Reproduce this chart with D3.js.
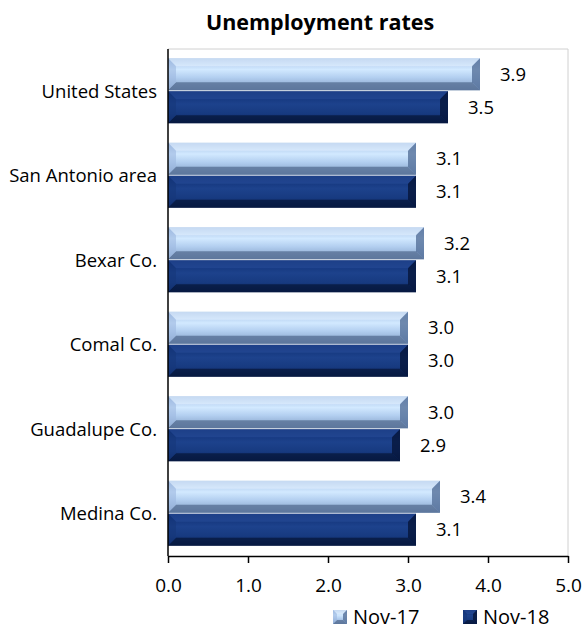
<!DOCTYPE html>
<html>
<head>
<meta charset="utf-8">
<script src="https://cdn.jsdelivr.net/npm/d3@7"></script>
<style>
body { margin: 0; background: #fff; }
text { font-family: "Open Sans", "DejaVu Sans", sans-serif; fill: #000; }
</style>
</head>
<body>
<script>
const WIDTH = 584, HEIGHT = 630;

const categories = ["United States", "San Antonio area", "Bexar Co.", "Comal Co.", "Guadalupe Co.", "Medina Co."];
const series = ["Nov-17", "Nov-18"];
const nov17 = [3.9, 3.1, 3.2, 3.0, 3.0, 3.4];
const nov18 = [3.5, 3.1, 3.1, 3.0, 2.9, 3.1];
const ticks = [0, 1, 2, 3, 4, 5];

const margin = {top: 49, right: 16, bottom: 74, left: 168};

const svg = d3.select("body").append("svg")
    .attr("width", WIDTH)
    .attr("height", HEIGHT);

const defs = svg.append("defs");

// gradients for the bevelled bars
function grad(id, stops) {
  const g = defs.append("linearGradient").attr("id", id)
      .attr("x1", 0).attr("y1", 0).attr("x2", 0).attr("y2", 1);
  stops.forEach(s => g.append("stop").attr("offset", s[0]).attr("stop-color", s[1]));
}
grad("g17", [[0, "#9fbbe2"], [0.35, "#d2e9ff"], [0.6, "#b3cff0"], [1, "#7f9cc4"]]);
grad("g18", [[0, "#0e2e72"], [0.4, "#1d428c"], [0.7, "#173a80"], [1, "#0a2258"]]);

const x = d3.scaleLinear().domain([0, 5]).range([margin.left, WIDTH - margin.right]);
const y0 = d3.scaleBand().domain(categories).range([margin.top, HEIGHT - margin.bottom]).paddingInner(0.22).paddingOuter(0.11);
const y1 = d3.scaleBand().domain(series).range([0, y0.bandwidth()]);

// title
svg.append("text")
    .attr("x", 320).attr("y", 30)
    .attr("text-anchor", "middle")
    .attr("font-size", 21.5).attr("font-weight", "bold")
    .text("Unemployment rates");

// plot border (top/right light gray)
svg.append("path")
    .attr("d", `M${x(0)},${margin.top}H${x(5)}V${HEIGHT - margin.bottom}`)
    .attr("fill", "none").attr("stroke", "#d0d0d0").attr("stroke-width", 1);

const colors = {"Nov-17": {fill: "url(#g17)", top: "#e6f3ff", bot: "#4f678c", left: "#9cb8df", right: "#55709a"},
                "Nov-18": {fill: "url(#g18)", top: "#2a4f9a", bot: "#061638", left: "#16377a", right: "#06153a"}};

function bevelBar(g, x0, x1, yt, h, c, bev) {
  const b = Math.min(bev, (x1 - x0) / 2, h / 2);
  g.append("rect").attr("x", x0).attr("y", yt).attr("width", x1 - x0).attr("height", h).attr("fill", c.fill);
  g.append("polygon").attr("points", [[x0, yt], [x1, yt], [x1 - b, yt + b], [x0 + b, yt + b]].join(" "))
      .attr("fill", c.top).attr("opacity", 0.55);
  g.append("polygon").attr("points", [[x0, yt + h], [x1, yt + h], [x1 - b, yt + h - b], [x0 + b, yt + h - b]].join(" "))
      .attr("fill", c.bot).attr("opacity", 0.7);
  g.append("polygon").attr("points", [[x0, yt], [x0 + b, yt + b], [x0 + b, yt + h - b], [x0, yt + h]].join(" "))
      .attr("fill", c.left).attr("opacity", 0.6);
  g.append("polygon").attr("points", [[x1, yt], [x1 - b, yt + b], [x1 - b, yt + h - b], [x1, yt + h]].join(" "))
      .attr("fill", c.right).attr("opacity", 0.8);
}

const rows = categories.map((c, i) => ({cat: c, vals: [nov17[i], nov18[i]]}));
const bars = svg.append("g");
rows.forEach(r => {
  series.forEach((s, j) => {
    const yt = y0(r.cat) + y1(s);
    const h = y1.bandwidth() - 1;
    bevelBar(bars, x(0), x(r.vals[j]), yt, h, colors[s], 8);
    bars.append("text")
        .attr("x", x(r.vals[j]) + 20).attr("y", yt + h / 2)
        .attr("dy", "0.36em").attr("font-size", 18.5)
        .text(d3.format(".1f")(r.vals[j]));
  });
});

// category labels
svg.append("g").selectAll("text").data(categories).enter().append("text")
    .attr("x", 157).attr("y", d => y0(d) + y0.bandwidth() / 2)
    .attr("dy", "0.36em").attr("text-anchor", "end").attr("font-size", 18.5)
    .text(d => d);

// y axis line
svg.append("line")
    .attr("x1", x(0)).attr("x2", x(0))
    .attr("y1", margin.top).attr("y2", HEIGHT - margin.bottom)
    .attr("stroke", "#000").attr("stroke-width", 1.5);

// x axis
const xAxis = svg.append("g")
    .attr("transform", `translate(0,${HEIGHT - margin.bottom})`)
    .call(d3.axisBottom(x).tickValues(ticks).tickFormat(d3.format(".1f")).tickSize(7).tickSizeOuter(0));
xAxis.select(".domain").attr("stroke-width", 1.5);
xAxis.selectAll(".tick line").attr("stroke-width", 1.5);
xAxis.selectAll("text").attr("font-size", 19).attr("y", 36).attr("dy", 0)
    .style("font-family", "'Open Sans', 'DejaVu Sans', sans-serif");

// legend
const legend = svg.append("g");
const legItems = [{s: "Nov-17", x: 333}, {s: "Nov-18", x: 463}];
legItems.forEach(d => {
  bevelBar(legend, d.x, d.x + 14, 610, 14, colors[d.s], 4);
  legend.append("text").attr("x", d.x + 20).attr("y", 624)
      .attr("font-size", 20).text(d.s);
});
</script>
</body>
</html>
